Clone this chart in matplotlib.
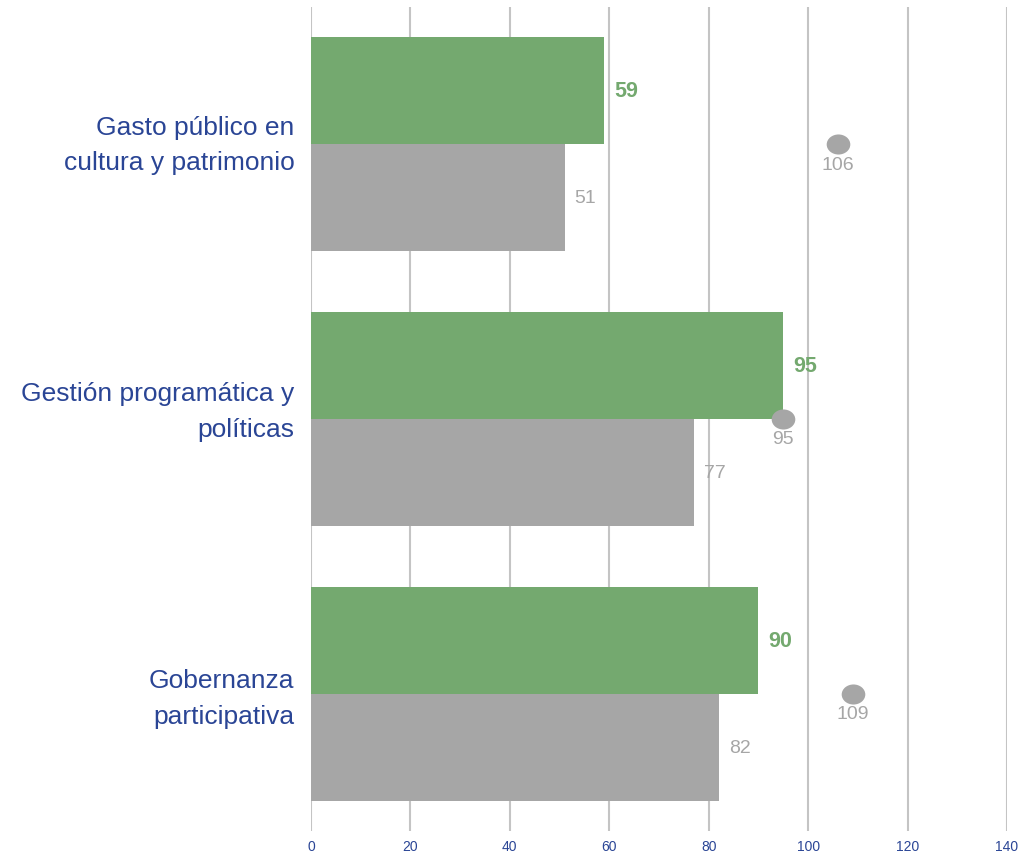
import matplotlib
matplotlib.use('Agg')
import matplotlib.pyplot as plt
from matplotlib.path import Path
from matplotlib.transforms import Affine2D, ScaledTranslation

categories = ['Gasto público en\ncultura y patrimonio',
              'Gestión programática y\npolíticas',
              'Gobernanza\nparticipativa']
green_values = [59, 95, 90]
grey_values = [51, 77, 82]
dot_values = [106, 95, 109]
x_ticks = [0, 20, 40, 60, 80, 100, 120, 140]

GREEN = '#74a96f'
GREY = '#a6a6a6'
BLUE = '#2a4595'
GRID = '#c4c4c4'

plt.rcParams['font.family'] = ['Liberation Sans', 'DejaVu Sans']

fig = plt.figure(figsize=(10.21, 8.54), dpi=100)
ax = fig.add_axes([0.3046, 0.0258, 0.6817, 0.9648])

bar_h = 0.39
ypos = list(range(len(categories)))
green_y = [y - bar_h / 2 for y in ypos]
grey_y = [y + bar_h / 2 for y in ypos]

ax.barh(green_y, green_values, height=bar_h, color=GREEN, zorder=3)
ax.barh(grey_y, grey_values, height=bar_h, color=GREY, zorder=3)

# slightly flattened dot marker
ellipse = Path.unit_circle().transformed(Affine2D().scale(1.0, 0.85))
ax.plot(dot_values, ypos, linestyle='none', marker=ellipse, markersize=17,
        color=GREY, markeredgewidth=0, zorder=4)

for y, v in zip(green_y, green_values):
    ax.annotate(str(v), (v, y), xytext=(10, 0), textcoords='offset pixels',
                ha='left', va='center', fontsize=15.5, fontweight='bold',
                color=GREEN)
for y, v in zip(grey_y, grey_values):
    ax.annotate(str(v), (v, y), xytext=(10, 0), textcoords='offset pixels',
                ha='left', va='center', fontsize=14, color=GREY)
for y, v in zip(ypos, dot_values):
    ax.annotate(str(v), (v, y), xytext=(0, -20), textcoords='offset pixels',
                ha='center', va='center', fontsize=14, color=GREY)

ax.set_xlim(0, 140)
ax.set_ylim(len(categories) - 0.5, -0.5)
ax.set_xticks(x_ticks)
ax.set_xticklabels([str(t) for t in x_ticks], fontsize=10, color=BLUE)
ax.set_yticks(ypos)
ax.set_yticklabels(categories, fontsize=19, color=BLUE, linespacing=1.6)
ax.tick_params(axis='both', length=0)
ax.tick_params(axis='x', pad=5.5)
ax.tick_params(axis='y', pad=12)

# labels in the original sit a bit above the group centre
label_shift_px = [8, 16, 4]
for lab, dy in zip(ax.get_yticklabels(), label_shift_px):
    lab.set_transform(lab.get_transform() +
                      ScaledTranslation(0, dy / 100, fig.dpi_scale_trans))

ax.grid(axis='x', color=GRID, linewidth=1.5, zorder=0)
ax.grid(axis='y', visible=False)
for s in ax.spines.values():
    s.set_visible(False)

fig.savefig('out.png', dpi=100)
